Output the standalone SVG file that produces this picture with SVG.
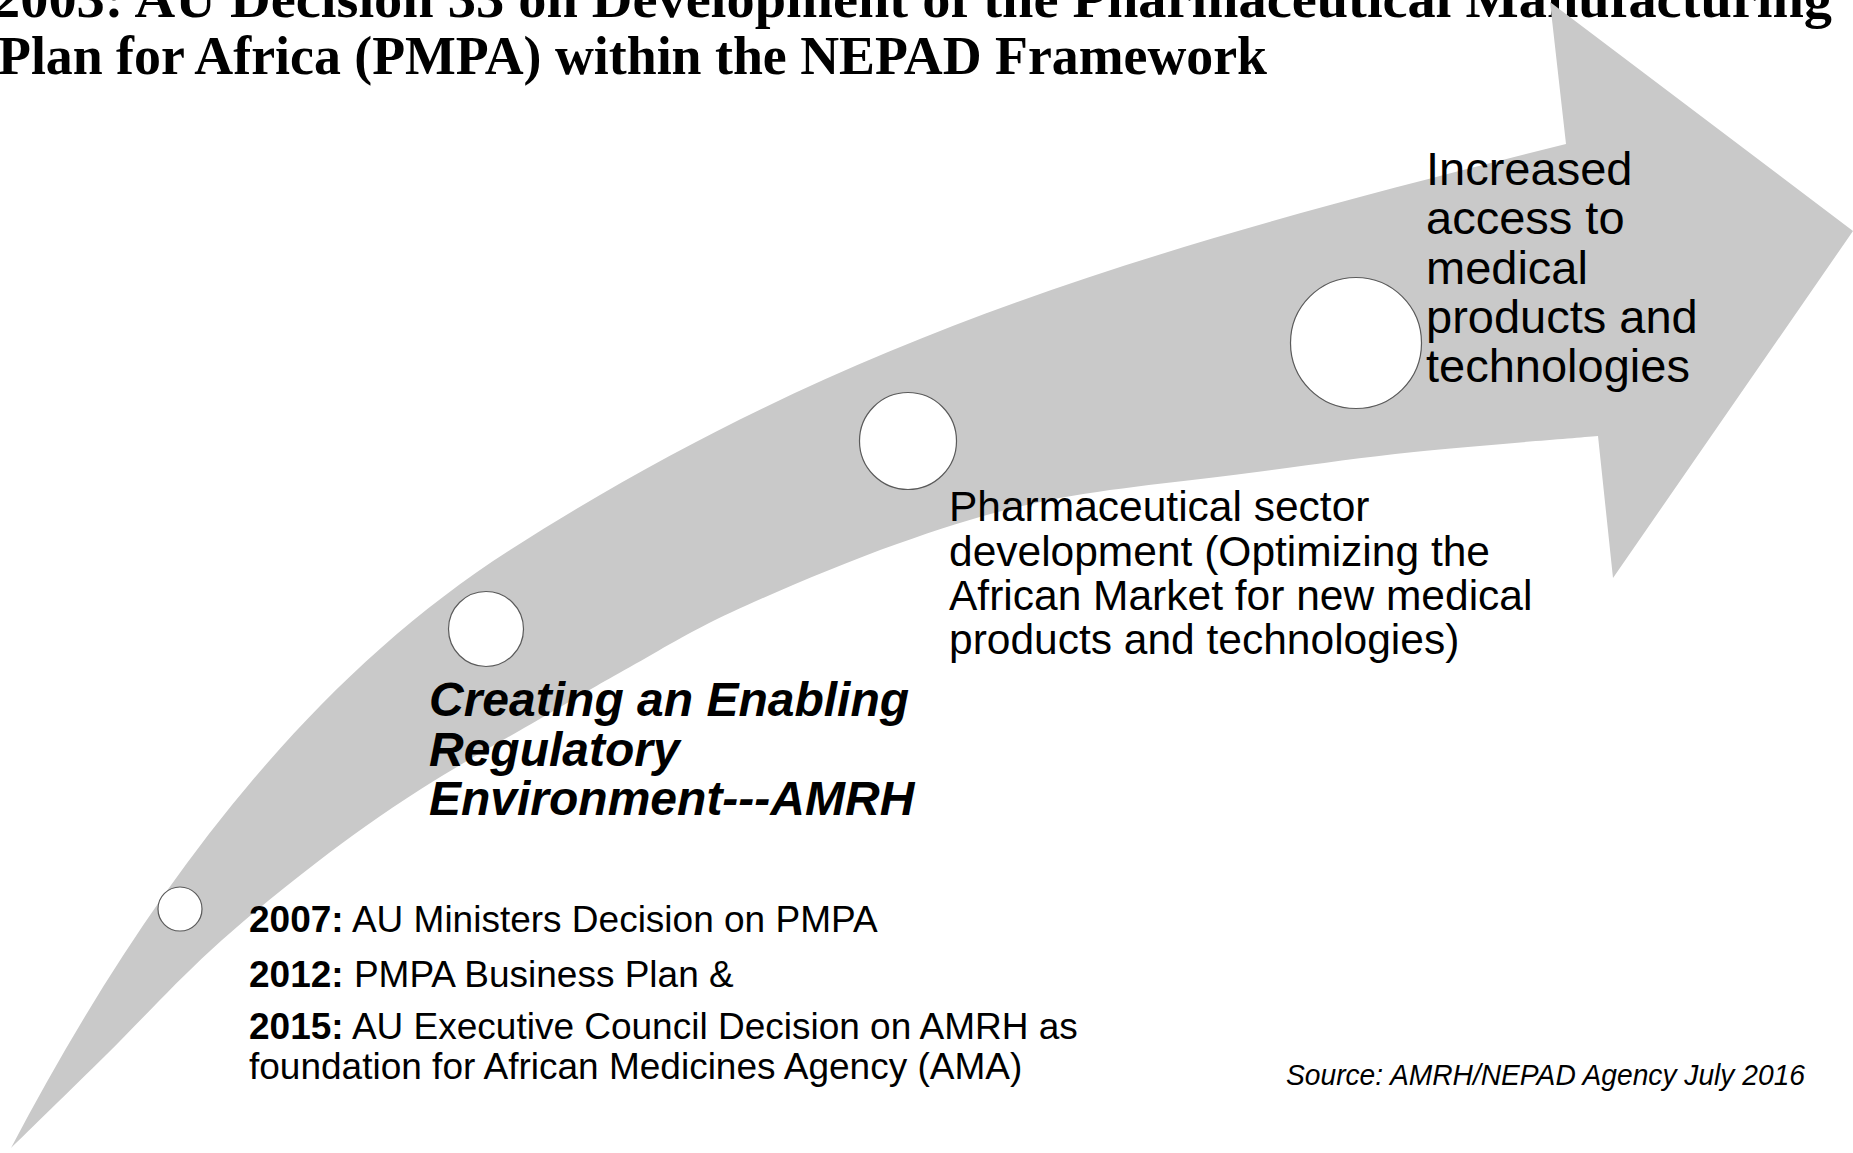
<svg xmlns="http://www.w3.org/2000/svg" width="1853" height="1153" viewBox="0 0 1853 1153">
<style>
.title{font-family:"Liberation Serif","Times New Roman",serif;font-weight:bold;font-size:54px;fill:#000}
.sans{font-family:"Liberation Sans",Arial,sans-serif;fill:#000}
.dot{fill:#fff;stroke:#5a5a5a;stroke-width:1.2}
.band{fill:#c9c9c9;stroke:none}
</style>
<rect width="1853" height="1153" fill="#fff"/>
<g id="title">
<text class="title" x="-8" y="17" textLength="1840" lengthAdjust="spacingAndGlyphs">2003: AU Decision 33 on Development of the Pharmaceutical Manufacturing</text>
<text class="title" x="-2" y="74" textLength="1269" lengthAdjust="spacingAndGlyphs">Plan for Africa (PMPA) within the NEPAD Framework</text>
</g>
<g id="arrow">
<path class="band" d="M11,1148 C132,918 291,690 510,550 C850,332 1166,244 1566,144 L1550,2 L1853,231 L1613,578 L1598,436 C1567.3,438.7 1472.2,445.8 1414,452 C1355.8,458.2 1309.7,465 1249,473 C1188.3,481 1108.7,488.2 1050,500 C991.3,511.8 950,525.3 897,544 C844,562.7 776.5,591.5 732,612 C687.5,632.5 660.3,650.2 630,667 C599.7,683.8 584.8,692.7 550,713 C515.2,733.3 460,764 421,789 C382,814 351.2,836 316,863 C280.8,890 245.2,918.8 210,951 C174.8,983.2 138.2,1023.2 105,1056 C71.8,1088.8 26.7,1132.7 11,1148 Z"/>
</g>
<g id="connectors"></g>
<g id="node-2007">
<circle class="dot" cx="180" cy="909" r="22"/>
<text class="sans" font-size="37" x="249" y="932"><tspan font-weight="bold">2007:</tspan> AU Ministers Decision on PMPA</text>
<text class="sans" font-size="37" x="249" y="987"><tspan font-weight="bold">2012:</tspan> PMPA Business Plan &amp;</text>
<text class="sans" font-size="37" x="249" y="1039"><tspan font-weight="bold">2015:</tspan> AU Executive Council Decision on AMRH as</text>
<text class="sans" font-size="37" x="249" y="1079">foundation for African Medicines Agency (AMA)</text>
</g>
<g id="node-regulatory">
<circle class="dot" cx="486" cy="629" r="37.5"/>
<text class="sans" font-size="48" font-weight="bold" font-style="italic">
<tspan x="429" y="716">Creating an Enabling</tspan>
<tspan x="429" y="766">Regulatory</tspan>
<tspan x="429" y="815">Environment---AMRH</tspan>
</text>
</g>
<g id="node-pharma">
<circle class="dot" cx="908" cy="441" r="48.5"/>
<text class="sans" font-size="42.5">
<tspan x="949" y="521">Pharmaceutical sector</tspan>
<tspan x="949" y="565.5">development (Optimizing the</tspan>
<tspan x="949" y="610">African Market for new medical</tspan>
<tspan x="949" y="654">products and technologies)</tspan>
</text>
</g>
<g id="node-access">
<circle class="dot" cx="1356" cy="343" r="65.5"/>
<text class="sans" font-size="47">
<tspan x="1426" y="185">Increased</tspan>
<tspan x="1426" y="234">access to</tspan>
<tspan x="1426" y="283.5">medical</tspan>
<tspan x="1426" y="333">products and</tspan>
<tspan x="1426" y="382">technologies</tspan>
</text>
</g>
<g id="source">
<text class="sans" font-size="29" font-style="italic" x="1286" y="1085" textLength="519" lengthAdjust="spacingAndGlyphs">Source: AMRH/NEPAD Agency July 2016</text>
</g>
</svg>
